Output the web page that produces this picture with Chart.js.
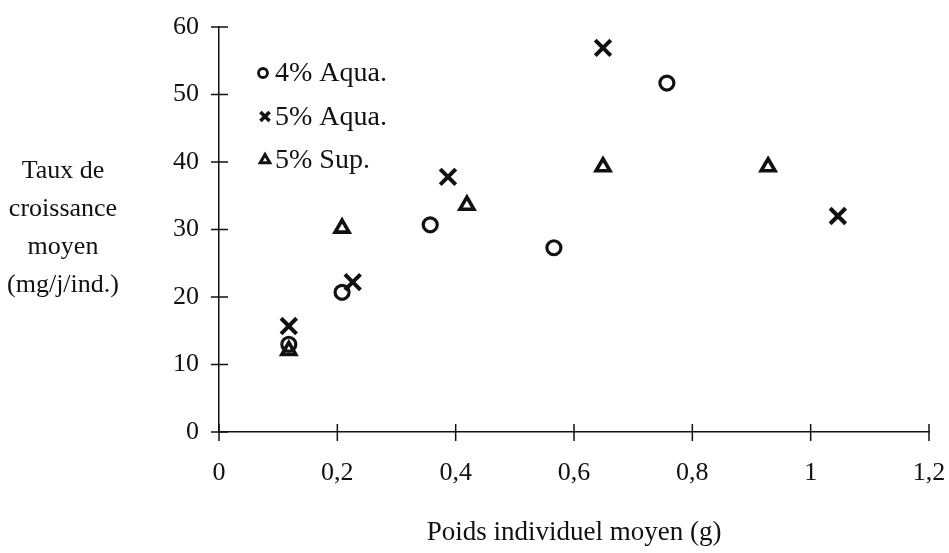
<!DOCTYPE html>
<html>
<head>
<meta charset="utf-8">
<script src="https://cdn.jsdelivr.net/npm/chart.js@4.4.1/dist/chart.umd.min.js"></script>
<style>
  html, body { margin: 0; padding: 0; background: #fff; }
  #wrap { width: 949px; height: 553px; }
</style>
</head>
<body>
<div id="wrap"><canvas id="chartCroissance"></canvas></div>
<script>
const seriesNames = ['4% Aqua.', '5% Aqua.', '5% Sup.'];

const aqua4X = [0.118, 0.208, 0.357, 0.566, 0.757];
const aqua4Y = [13.0, 20.7, 30.7, 27.3, 51.7];

const aqua5X = [0.118, 0.226, 0.387, 0.649, 1.046];
const aqua5Y = [15.7, 22.2, 37.8, 56.9, 32.0];

const sup5X = [0.118, 0.208, 0.419, 0.649, 0.928];
const sup5Y = [12.1, 30.2, 33.6, 39.3, 39.3];

const xTickLabels = ['0', '0,2', '0,4', '0,6', '0,8', '1', '1,2'];
const yTickLabels = ['0', '10', '20', '30', '40', '50', '60'];
const yTitleLines = ['Taux de', 'croissance', 'moyen', '(mg/j/ind.)'];
const xTitle = 'Poids individuel moyen (g)';

const ink = '#111';
const serif = "'Liberation Serif', 'Times New Roman', serif";

function pts(xs, ys) {
  return xs.map((x, i) => ({ x: x, y: ys[i] }));
}

const styles = [
  { pointStyle: 'circle', radius: 7, borderWidth: 3.2, legendRadius: 4.5, legendWidth: 2.8, legendX: 263 },
  { pointStyle: 'crossRot', radius: 11, borderWidth: 4, legendRadius: 6.5, legendWidth: 3.6, legendX: 265 },
  { pointStyle: 'triangle', radius: 8, borderWidth: 3.6, legendRadius: 5.5, legendWidth: 3, legendX: 265 }
];

const dataCroissance = {
  datasets: [pts(aqua4X, aqua4Y), pts(aqua5X, aqua5Y), pts(sup5X, sup5Y)].map((d, i) => ({
    label: seriesNames[i],
    data: d,
    pointStyle: styles[i].pointStyle,
    pointRadius: styles[i].radius,
    pointBorderWidth: styles[i].borderWidth,
    borderColor: ink,
    backgroundColor: 'rgba(0,0,0,0)',
    showLine: false
  }))
};

// tick marks crossing both sides of the axes
const crossTicks = {
  id: 'crossTicks',
  afterDraw(chart) {
    const ctx = chart.ctx;
    const xs = chart.scales.x, ys = chart.scales.y;
    const area = chart.chartArea;
    ctx.save();
    ctx.strokeStyle = ink;
    ctx.lineWidth = 1.5;
    ctx.beginPath();
    xs.ticks.forEach(t => {
      const px = xs.getPixelForValue(t.value);
      ctx.moveTo(px, area.bottom - 8);
      ctx.lineTo(px, area.bottom + 9);
    });
    ys.ticks.forEach(t => {
      const py = ys.getPixelForValue(t.value);
      ctx.moveTo(area.left - 8, py);
      ctx.lineTo(area.left + 9, py);
    });
    ctx.stroke();
    ctx.restore();
  }
};

// horizontal y title on the left
const yTitle = {
  id: 'yTitle',
  afterDraw(chart) {
    const ctx = chart.ctx;
    ctx.save();
    ctx.fillStyle = ink;
    ctx.font = '26px ' + serif;
    ctx.textAlign = 'center';
    ctx.textBaseline = 'middle';
    yTitleLines.forEach((line, i) => {
      ctx.fillText(line, 63, 171 + i * 38);
    });
    ctx.restore();
  }
};

// legend in top-left of plot
const innerLegend = {
  id: 'innerLegend',
  afterDraw(chart) {
    const ctx = chart.ctx;
    ctx.save();
    chart.data.datasets.forEach((ds, i) => {
      const y = 73 + i * 43.5;
      ctx.strokeStyle = ink;
      ctx.fillStyle = 'rgba(0,0,0,0)';
      ctx.lineWidth = styles[i].legendWidth;
      Chart.helpers.drawPoint(ctx, {
        pointStyle: styles[i].pointStyle,
        radius: styles[i].legendRadius,
        borderWidth: styles[i].legendWidth,
        rotation: 0
      }, styles[i].legendX, y);
      ctx.fillStyle = ink;
      ctx.font = '28px ' + serif;
      ctx.textAlign = 'left';
      ctx.textBaseline = 'middle';
      ctx.fillText(ds.label, 275, y + 1);
    });
    ctx.restore();
  }
};

const optionsCroissance = {
  responsive: true,
  maintainAspectRatio: false,
  animation: false,
  layout: {
    padding: { top: 27, right: 0, bottom: 0, left: 0 }
  },
  scales: {
    x: {
      type: 'linear',
      min: 0,
      max: 1.2,
      afterFit: s => { s.height = 121; s.paddingRight = 20; s.paddingLeft = 0; },
      afterBuildTicks: s => {
        s.ticks = xTickLabels.map((_, i) => ({ value: i * 0.2 }));
      },
      ticks: {
        padding: 26,
        color: ink,
        font: { family: serif, size: 26 },
        callback: (v, i) => xTickLabels[i]
      },
      grid: { display: true, drawOnChartArea: false, drawTicks: false },
      border: { display: true, color: ink, width: 1.5 },
      title: {
        display: true,
        text: xTitle,
        color: ink,
        font: { family: serif, size: 27 },
        padding: { top: 4, bottom: 4 }
      }
    },
    y: {
      min: 0,
      max: 60,
      afterFit: s => { s.width = 219; s.paddingTop = 0; s.paddingBottom = 0; },
      ticks: {
        stepSize: 10,
        padding: 20,
        color: ink,
        font: { family: serif, size: 26 },
        callback: (v, i) => yTickLabels[i]
      },
      grid: { display: true, drawOnChartArea: false, drawTicks: false },
      border: { display: true, color: ink, width: 1.5 }
    }
  },
  plugins: {
    legend: { display: false },
    tooltip: { enabled: false }
  }
};

const ctxCroissance = document.getElementById('chartCroissance');

new Chart(ctxCroissance, {
  type: 'scatter',
  data: dataCroissance,
  options: optionsCroissance,
  plugins: [crossTicks, yTitle, innerLegend]
});
</script>
</body>
</html>
